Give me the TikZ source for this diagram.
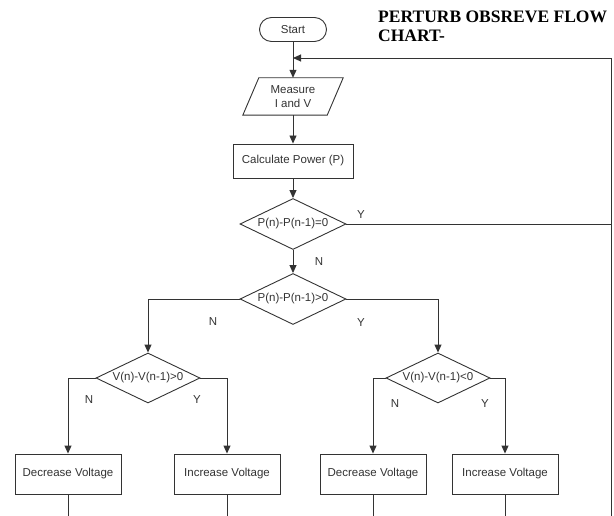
\documentclass[tikz,border=0pt]{standalone}
\usepackage{fontspec}
\setmainfont{Liberation Serif}
\newfontfamily\flowfont{Liberation Sans}
\usetikzlibrary{shapes.geometric,arrows.meta,calc}
\begin{document}
\begin{tikzpicture}[x=1pt,y=-1pt,
  line/.style={draw=black!80, line width=0.9pt},
  arr/.style={line, -{Triangle[length=8pt,width=7pt]}},
  txt/.style={font=\flowfont\fontsize{11.5}{14}\selectfont, text=black!80},
  box/.style={txt, draw=black!80, line width=0.9pt, rectangle, inner sep=0pt, minimum width=106pt, minimum height=40pt},
  dec/.style={txt, draw=black!80, line width=0.9pt, diamond, shape aspect=2, inner sep=0pt, minimum width=106pt, minimum height=51pt},
  lbl/.style={txt, inner sep=0pt}]
\useasboundingbox (0,0) rectangle (614,516);
% title
\node[anchor=north west, inner sep=0pt, align=left, font=\bfseries\fontsize{17.5}{19}\selectfont] (title) at (378,10.5) {PERTURB OBSREVE FLOW\\CHART-};
% nodes
\node[txt, draw=black!80, line width=0.9pt, rounded corners=12pt, minimum width=67pt, minimum height=24pt, inner sep=0pt] (start) at (293,29.5) {Start};
\node[txt, minimum width=84pt, minimum height=37pt, inner sep=0pt, align=center] (meas) at (293,96.5) {Measure\\I and V};
\draw[line] ($(meas.north west)+(8,0)$) -- ($(meas.north east)+(8,0)$) -- ($(meas.south east)+(-8,0)$) -- ($(meas.south west)+(-8,0)$) -- cycle;
\node[box, minimum width=120pt, minimum height=34pt] (calc) at (293,161) {Calculate Power (P)};
\node[dec] (d1) at (293,224) {P(n)-P(n-1)=0};
\node[dec] (d2) at (293,299) {P(n)-P(n-1)>0};
\node[dec, minimum width=104pt, minimum height=50pt] (d3) at (148,378) {V(n)-V(n-1)>0};
\node[dec, minimum width=104pt, minimum height=50pt] (d4) at (438,378) {V(n)-V(n-1)<0};
\node[box] (dv1) at (68,474) {Decrease Voltage};
\node[box] (iv1) at (227,474) {Increase Voltage};
\node[box] (dv2) at (373,474) {Decrease Voltage};
\node[box] (iv2) at (505,474) {Increase Voltage};
% coordinates
\coordinate (fbtop) at (611,58);
\coordinate (fbbot) at (611,516);
\coordinate (fbmid) at (611,224);
\coordinate (join) at (293,58);
% connectors
\draw[arr] (start.south) -- (meas.north);
\draw[line] (fbbot) -- (fbtop);
\draw[arr] (fbtop) -- (join);
\draw[line] (d1.east) -- (fbmid);
\draw[arr] (meas.south) -- (calc.north);
\draw[arr] (calc.south) -- (d1.north);
\draw[arr] (d1.south) -- (d2.north);
\draw[arr] (d2.west) -| (d3.north);
\draw[arr] (d2.east) -| (d4.north);
\draw[arr] (d3.west) -| (dv1.north);
\draw[arr] (d3.east) -| (iv1.north);
\draw[arr] (d4.west) -| (dv2.north);
\draw[arr] (d4.east) -| (iv2.north);
\draw[line] (dv1.south) -- (dv1.south |- fbbot);
\draw[line] (iv1.south) -- (iv1.south |- fbbot);
\draw[line] (dv2.south) -- (dv2.south |- fbbot);
\draw[line] (iv2.south) -- (iv2.south |- fbbot);
% labels
\node[lbl] (y1) at (361,215) {Y};
\node[lbl] (n1) at (319,262) {N};
\node[lbl] (n2) at (213,322) {N};
\node[lbl] (y2) at (361,323) {Y};
\node[lbl] (n3) at (89,400) {N};
\node[lbl] (y3) at (197,400) {Y};
\node[lbl] (n4) at (395,404) {N};
\node[lbl] (y4) at (485,404) {Y};
\end{tikzpicture}
\end{document}
